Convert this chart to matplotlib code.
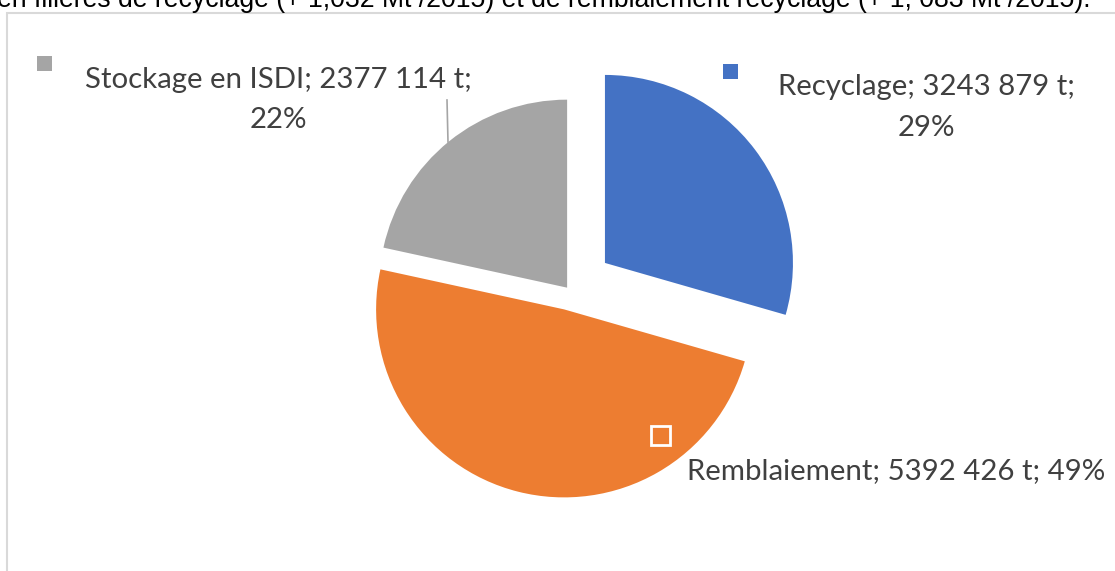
import matplotlib.pyplot as plt
from matplotlib.patches import Rectangle

# data
labels = ["Recyclage", "Remblaiement", "Stockage en ISDI"]
tonnes = [3243879, 5392426, 2377114]
tonnes_txt = ["3243 879", "5392 426", "2377 114"]
percents = ["29%", "49%", "22%"]
colors = ["#4472C4", "#ED7D31", "#A5A5A5"]
explode_px = [45, 20, 3]

W, H = 1115, 571
fig = plt.figure(figsize=(W / 100, H / 100), dpi=100)
ax = fig.add_axes([0, 0, 1, 1])

def Y(y):
    # image pixel row -> data y
    return H - y

# pie drawn straight in pixel units
ax.pie(tonnes, colors=colors, explode=explode_px, startangle=90, counterclock=False,
       center=(569, Y(290)), radius=188, frame=True,
       wedgeprops=dict(linewidth=0))
ax.set_xlim(0, W)
ax.set_ylim(0, H)
ax.set_aspect("equal")
ax.axis("off")

# frame of the chart area
ax.add_patch(Rectangle((7, Y(700)), 1200, 687, fill=False, ec="#D9D9D9", lw=1.5))

# sentence from the page above, cut off by the screenshot
ax.text(-3, Y(7), "en filières de recyclage (+ 1,032 Mt /2015) et de remblaiement recyclage (+ 1, 083 Mt /2015).",
        family="Liberation Sans", fontsize=19.2, color="black", ha="left", va="baseline")

txt = dict(family="Lato", fontsize=21.2, color="#404040", va="baseline")

# Recyclage label
ax.add_patch(Rectangle((723, Y(79)), 15, 15, color=colors[0], lw=0))
ax.text(926, Y(95), f"{labels[0]}; {tonnes_txt[0]} t;", ha="center", **txt)
ax.text(926, Y(136), percents[0], ha="center", **txt)

# Stockage label
ax.add_patch(Rectangle((37, Y(71)), 15, 15, color=colors[2], lw=0))
ax.text(278, Y(88), f"{labels[2]}; {tonnes_txt[2]} t;", ha="center", **txt)
ax.text(278, Y(128), percents[2], ha="center", **txt)
ax.plot([447, 448], [Y(100), Y(142)], color="#A5A5A5", lw=1.2)

# Remblaiement label
ax.add_patch(Rectangle((651, Y(445)), 19, 19, fc=colors[1], ec="white", lw=2))
ax.text(687, Y(479), f"{labels[1]}; {tonnes_txt[1]} t; {percents[1]}", ha="left", **txt)

fig.savefig("out.png", dpi=100)
